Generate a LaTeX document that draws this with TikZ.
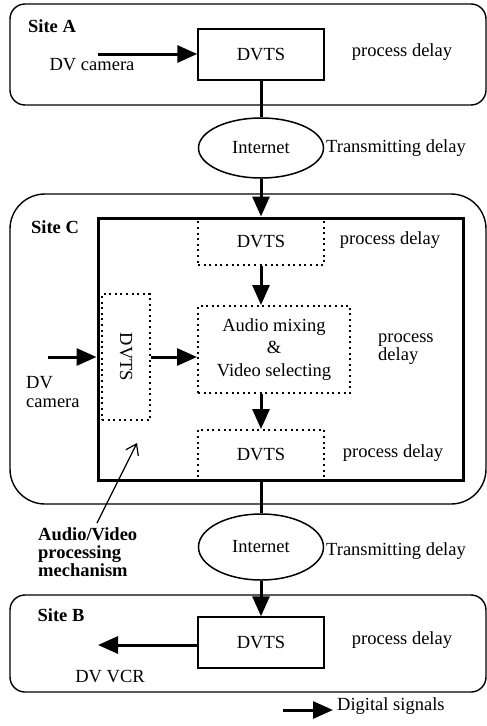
\documentclass[tikz,border=0pt]{standalone}
\usepackage{fontspec}
\setmainfont{Liberation Serif}
\usetikzlibrary{arrows.meta,shapes.geometric}
\tikzset{
  every node/.style={font=\fontsize{18.5}{22.2}\selectfont, inner sep=0pt},
  site/.style={draw, line width=1.4pt, rounded corners=15pt},
  solidbox/.style={draw, line width=1.5pt},
  dotbox/.style={draw, line width=2pt, dash pattern=on 2pt off 3.6pt},
  cloud/.style={draw, ellipse, line width=1.5pt, minimum width=125pt},
  lbl/.style={font=\fontsize{18.5}{22.2}\selectfont\bfseries},
  link/.style={line width=3pt},
  sig/.style={line width=3pt, -{Triangle[length=20pt,width=17pt]}},
  pointer/.style={line width=1.2pt, -{Straight Barb[length=10pt,width=14pt]}}
}
\begin{document}
\begin{tikzpicture}[x=1pt,y=-1pt]
\useasboundingbox (0,0) rectangle (487,726);

% Site A
\node (siteA) [site, minimum width=476, minimum height=101] at (248,54.5) {};
\node (labA) [lbl] at (52,26) {Site A};
\node (dvtsA) [solidbox, minimum width=126, minimum height=51] at (261,54.5) {DVTS};
\node (camA) at (92,65) {DV camera};
\coordinate (camAin) at (98,54);
\node (pdA) at (402,52) {process delay};

% First Internet hop
\node (net1) [cloud, minimum height=60] at (261,148) {Internet};
\node (tdA) [anchor=west] at (326,148) {Transmitting delay};

% Site C
\node (siteC) [site, rounded corners=35pt, minimum width=476, minimum height=310] at (248,349) {};
\node (labC) [lbl] at (55,227) {Site C};
\node (inner) [draw, line width=3pt, minimum width=365, minimum height=262] at (280.5,349) {};
\node (dvtsC1) [dotbox, minimum width=126, minimum height=47] at (261,241.5) {DVTS};
\node (pdC1) at (390,240) {process delay};
\node (mix) [dotbox, minimum width=152, minimum height=87, align=center] at (274,349.5)
  {Audio mixing\\\&\\Video selecting};
\node (pdC2) [align=left, anchor=west] at (378,349) {process\\[-4pt]delay};
\node (dvtsL) [dotbox, minimum width=48, minimum height=126] at (126,357) {\rotatebox{-90}{DVTS}};
\coordinate (camC) at (48,357);
\node (camCtxt) [align=left, anchor=west] at (26,392) {DV\\[-4pt]camera};
\node (dvtsC2) [dotbox, minimum width=126, minimum height=50] at (261,455) {DVTS};
\node (pdC3) at (393,453) {process delay};
\coordinate (ptrFrom) at (97,523);
\coordinate (ptrTo) at (137,443);
\node (avlbl) [lbl, align=left, anchor=west] at (38,552)
  {Audio/Video\\[-4pt]processing\\[-4pt]mechanism};

% Second Internet hop
\node (net2) [cloud, minimum height=66] at (261,547) {Internet};
\node (tdB) [anchor=west] at (326,551) {Transmitting delay};

% Site B
\node (siteB) [site, minimum width=476, minimum height=97] at (248,643.5) {};
\node (labB) [lbl] at (61,615) {Site B};
\node (dvtsB) [solidbox, minimum width=126, minimum height=51] at (261,642.5) {DVTS};
\coordinate (vcr) at (98,645);
\node (vcrtxt) at (110,677) {DV VCR};
\node (pdB) at (402,640) {process delay};

% Legend
\coordinate (legA) at (283,710);
\coordinate (legB) at (333,710);
\node (legtxt) [anchor=west] at (337,706) {Digital signals};

% Connectors
\draw[sig] (camAin) -- (camAin -| dvtsA.west);
\draw[link] (dvtsA.south) -- (net1.north);
\draw[sig] (net1.south) -- (net1.south |- inner.north);
\draw[sig] (dvtsC1.south) -- (dvtsC1.south |- mix.north);
\draw[sig] (camC) -- (camC -| inner.west);
\draw[sig] (dvtsL.east) -- (dvtsL.east -| mix.west);
\draw[sig] (dvtsC2.north |- mix.south) -- (dvtsC2.north);
\draw[pointer] (ptrFrom) -- (ptrTo);
\draw[link] (dvtsC2.south) -- (net2.north);
\draw[sig] (net2.south) -- (dvtsB.north);
\draw[sig] (dvtsB.west |- vcr) -- (vcr);
\draw[sig] (legA) -- (legB);
\end{tikzpicture}
\end{document}
